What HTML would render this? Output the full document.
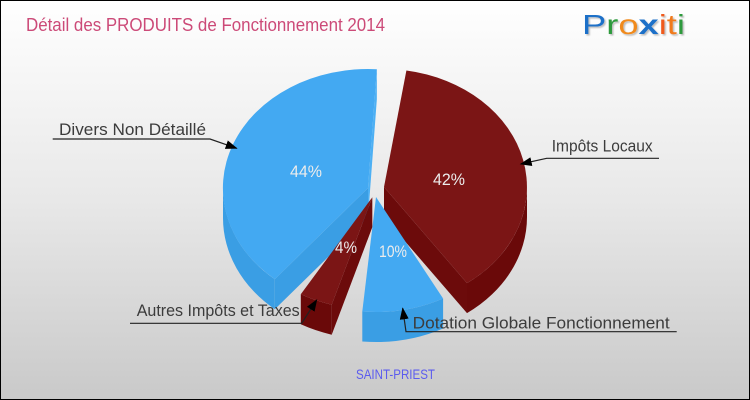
<!DOCTYPE html>
<html>
<head>
<meta charset="utf-8">
<style>
html,body{margin:0;padding:0;background:#fff;}
svg{display:block;}
text{font-family:"Liberation Sans","DejaVu Sans",sans-serif;}
</style>
</head>
<body>
<svg width="750" height="400" viewBox="0 0 750 400" xmlns="http://www.w3.org/2000/svg">
  <defs>
    <linearGradient id="bg" x1="0" y1="0" x2="0" y2="1">
      <stop offset="0" stop-color="#ffffff"/>
      <stop offset="0.5" stop-color="#e8e8e8"/>
      <stop offset="1" stop-color="#c9c9c9"/>
    </linearGradient>
    <marker id="ah" markerUnits="userSpaceOnUse" markerWidth="12" markerHeight="9" refX="11" refY="4.5" orient="auto">
      <path d="M0,0 L12,4.5 L0,9 z" fill="#000"/>
    </marker>
    <filter id="sh" x="-10%" y="-10%" width="130%" height="140%">
      <feDropShadow dx="1.5" dy="1.5" stdDeviation="0.8" flood-color="#000" flood-opacity="0.25"/>
    </filter>
  </defs>

  <rect x="0.5" y="0.5" width="749" height="399" fill="url(#bg)" stroke="#000" stroke-width="1"/>

  <!-- Title -->
  <text x="26" y="31" font-size="18" fill="#cc4a78" textLength="359" lengthAdjust="spacingAndGlyphs">Détail des PRODUITS de Fonctionnement 2014</text>

  <!-- Logo -->
  <text x="582" y="34" font-size="28" textLength="103" lengthAdjust="spacingAndGlyphs" filter="url(#sh)"><tspan fill="#1f6fc8">P</tspan><tspan fill="#2e9a3c">r</tspan><tspan fill="#f08a1c">o</tspan><tspan fill="#1f6fc8" font-weight="bold">x</tspan><tspan fill="#f05a1c">i</tspan><tspan fill="#f07a1c">t</tspan><tspan fill="#2e9a3c">i</tspan></text>

  <!-- Divers Non Détaillé (blue 44%) -->
  <path d="M368,188 L274.8,279.2 L274.8,309.2 L368,218 Z" fill="#3a9ee4"/>
  <path d="M223,188 A145 119 0 0 0 274.8,279.2 L274.8,309.2 A145 119 0 0 1 223,218 Z" fill="#3a9ee4"/>
  <path d="M368,188 L376.85,69.2 L376.85,99.2 L368,218 Z" fill="#4db0f4"/>
  <path d="M368,188 L376.85,69.2 A145 119 0 0 0 274.8,279.2 Z" fill="#43a9f2"/>

  <!-- Impôts Locaux (red 42%) -->
  <path d="M384,187 L467,283.1 L467,313.1 L384,217 Z" fill="#6c0b0b"/>
  <path d="M527,187 A143 118 0 0 1 467,283.1 L467,313.1 A143 118 0 0 0 527,217 Z" fill="#6a0909"/>
  <path d="M384,187 L406.4,70.5 A143 118 0 0 1 467,283.1 Z" fill="#7b1515"/>

  <!-- Autres Impôts et Taxes (red 4%) -->
  <path d="M372.3,197.3 L331.7,304.7 L331.7,334.7 L372.3,227.3 Z" fill="#6c0b0b"/>
  <path d="M331.7,304.7 A143 112 0 0 1 300.8,294.3 L300.8,324.3 A143 112 0 0 0 331.7,334.7 Z" fill="#6a0909"/>
  <path d="M372.3,197.3 L331.7,304.7 A143 112 0 0 1 300.8,294.3 Z" fill="#7b1515"/>

  <!-- Dotation Globale Fonctionnement (blue 10%) -->
  <path d="M443.1,298.5 A143 115 0 0 1 362.3,311.5 L362.3,341.5 A143 115 0 0 0 443.1,328.5 Z" fill="#3a9ee4"/>
  <path d="M376,197 L443.1,298.5 A143 115 0 0 1 362.3,311.5 Z" fill="#43a9f2"/>

  <!-- Percent labels -->
  <g fill="#ececec" font-size="17">
    <text x="290" y="177" textLength="32" lengthAdjust="spacingAndGlyphs">44%</text>
    <text x="433" y="185" textLength="32" lengthAdjust="spacingAndGlyphs">42%</text>
    <text x="335" y="253" textLength="22" lengthAdjust="spacingAndGlyphs">4%</text>
    <text x="379" y="257" textLength="28" lengthAdjust="spacingAndGlyphs">10%</text>
  </g>

  <!-- Leader lines -->
  <g stroke="#222" stroke-width="1.2" fill="none">
    <polyline points="52.7,139 210,139 236.7,148.3" marker-end="url(#ah)"/>
    <polyline points="659,158.3 546.7,158.3 520.7,164" marker-end="url(#ah)"/>
    <polyline points="130,323.3 301.7,323.3 316.7,300" marker-end="url(#ah)"/>
    <polyline points="676.7,331.7 406,331.7 402.7,308.3" marker-end="url(#ah)"/>
  </g>

  <!-- Category labels -->
  <g fill="#3c3c3c" font-size="17">
    <text x="59" y="135" textLength="147" lengthAdjust="spacingAndGlyphs">Divers Non Détaillé</text>
    <text x="551.7" y="151.7" textLength="101" lengthAdjust="spacingAndGlyphs">Impôts Locaux</text>
    <text x="136.7" y="316" textLength="163" lengthAdjust="spacingAndGlyphs">Autres Impôts et Taxes</text>
    <text x="412.7" y="328.3" textLength="257" lengthAdjust="spacingAndGlyphs">Dotation Globale Fonctionnement</text>
  </g>

  <!-- City -->
  <text x="356" y="379" font-size="14" fill="#5b5bef" textLength="79" lengthAdjust="spacingAndGlyphs">SAINT-PRIEST</text>
</svg>
</body>
</html>
